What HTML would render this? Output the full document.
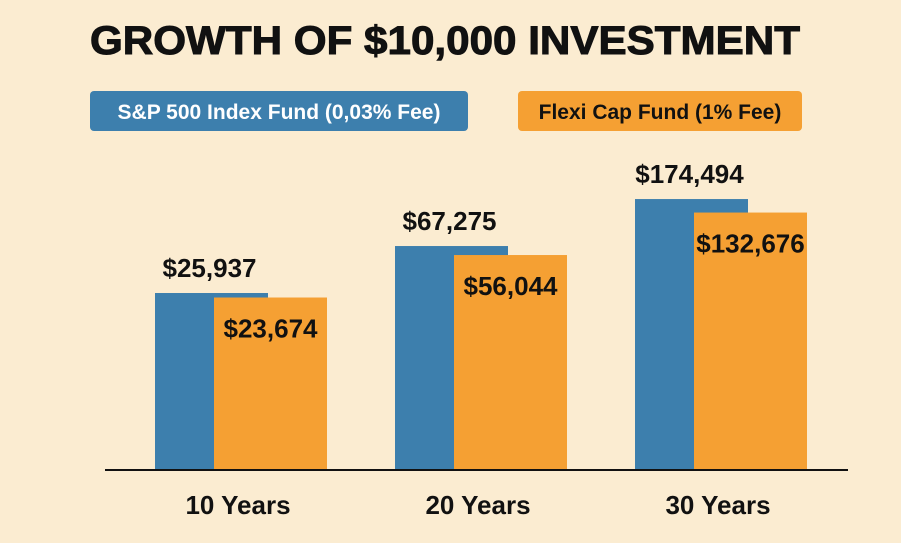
<!DOCTYPE html>
<html><head><meta charset="utf-8"><style>
html,body{margin:0;padding:0;background:#fbecd1;}
body{width:901px;height:538px;overflow:hidden;font-family:"Liberation Sans","DejaVu Sans",sans-serif;}
</style></head><body>
<svg id="chart" width="901" height="538" xmlns="http://www.w3.org/2000/svg">
<rect x="0" y="0" width="901" height="538" fill="#fbecd1"/>
<text x="90" y="54" font-size="40" font-weight="bold" fill="#111" textLength="710" lengthAdjust="spacingAndGlyphs" stroke="#111" stroke-width="1">GROWTH OF  $10,000 INVESTMENT</text>
<g>
<rect x="90" y="91" width="378" height="40" rx="4" fill="#3d7fad"/>
<text x="279" y="119" text-anchor="middle" font-size="21" font-weight="bold" fill="#fff">S&amp;P 500 Index Fund (0,03% Fee)</text>
<rect x="518" y="91" width="284" height="40" rx="4" fill="#f5a033"/>
<text x="660" y="119" text-anchor="middle" font-size="21" font-weight="bold" fill="#111">Flexi Cap Fund (1% Fee)</text>
</g>
<g id="bars"></g>
<line x1="105" y1="470" x2="848" y2="470" stroke="#111" stroke-width="2"/>
</svg>
<script>
const categories = ["10 Years", "20 Years", "30 Years"];
const sp500Values = [25937, 67275, 174494];
const flexiValues = [23674, 56044, 132676];

const baseY = 470;
function yScale(v){ return baseY - (177 + 113.5 * (Math.log10(v) - 4.414)); }
function xCenter(i){ return 240 + i * 240; }
function fmt(v){ return "$" + v.toLocaleString("en-US"); }
const ns = "http://www.w3.org/2000/svg";
const g = document.getElementById("bars");
function mk(tag, attrs){ const e = document.createElementNS(ns, tag); for (const k in attrs) e.setAttribute(k, attrs[k]); g.appendChild(e); return e; }

categories.forEach((c, i) => {
  const cx = xCenter(i);
  const bx = cx - 85, ox = cx - 26, w = 113;
  const by = yScale(sp500Values[i]);
  const oy = yScale(flexiValues[i]);
  const b = mk("rect", {x: bx, y: by, width: w, height: baseY - by, fill: "#3d7fad"});
  
  
  const o = mk("rect", {x: ox, y: oy, width: w, height: baseY - oy, fill: "#f5a033"});
  
  
  const bl = mk("text", {x: bx + w/2 - 2, y: by - 16, "text-anchor": "middle", "font-size": 26, "font-weight": "bold", fill: "#111"});
  bl.textContent = fmt(sp500Values[i]);
  
  
  const ol = mk("text", {x: ox + w/2, y: oy + 40, "text-anchor": "middle", "font-size": 26, "font-weight": "bold", fill: "#111"});
  ol.textContent = fmt(flexiValues[i]);
  
  
  const cl = mk("text", {x: cx - 2, y: 514, "text-anchor": "middle", "font-size": 26, "font-weight": "bold", fill: "#111"});
  cl.textContent = c;
  
  
});
</script>
</body></html>
